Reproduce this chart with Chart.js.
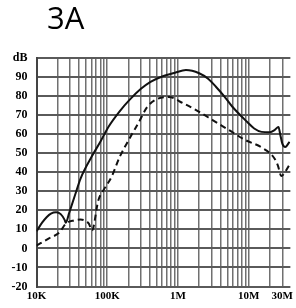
<!DOCTYPE html>
<html>
<head>
<meta charset="utf-8">
<script src="https://cdn.jsdelivr.net/npm/chart.js@4/dist/chart.umd.min.js"></script>
<style>
  html, body { margin: 0; padding: 0; background: #fff; width: 296px; height: 308px; overflow: hidden; }
  #wrap { position: relative; width: 296px; height: 308px; }
  #title { position: absolute; left: 47px; top: 2px; font-family: "Open Sans", sans-serif; font-size: 31px; line-height: 31px; color: #000; }
  canvas { position: absolute; left: 0; top: 0; }
</style>
</head>
<body>
<div id="wrap">
  <canvas id="c" width="296" height="308"></canvas>
  <div id="title">3A</div>
</div>
<script>
// Frequencies (Hz) and levels (dB)
const solidFreq = [10e3, 12e3, 14e3, 16e3, 19e3, 22e3, 25e3, 26e3, 29e3, 35e3, 42e3, 61e3, 80e3, 104e3, 150e3, 207e3, 300e3, 410e3, 600e3, 910e3, 1.3e6, 2.0e6, 2.7e6, 3.45e6, 4.5e6, 5.9e6, 9.5e6, 12e6, 15.3e6, 20e6, 23.3e6, 26.5e6, 28e6, 30e6, 33e6, 38e6];
const solidDb   = [9, 13.5, 16.5, 18.3, 19, 18, 15, 13.5, 18.7, 27.9, 36.7, 48.5, 56, 63.8, 72, 78, 83.8, 87.5, 90.3, 92.3, 93.7, 92, 89, 84.9, 80, 74.4, 66.5, 63, 61.2, 61, 62.1, 63.8, 60, 55, 53.3, 56];

const dashFreq = [10e3, 15e3, 21e3, 26e3, 34e3, 42e3, 49e3, 55e3, 61e3, 75e3, 90e3, 115e3, 150e3, 207e3, 282e3, 370e3, 510e3, 740e3, 1.19e6, 2.0e6, 3.1e6, 5.3e6, 8.9e6, 15.3e6, 23e6, 26e6, 29e6, 34e6, 38e6];
const dashDb   = [1.5, 5.3, 8.3, 13, 14.7, 15.2, 14.5, 13, 9.5, 25.3, 31, 37.5, 48, 57.7, 66.5, 74.4, 78.5, 79.5, 76.2, 71.7, 67.4, 62.1, 57, 53, 47.5, 43.5, 38, 41, 44];

const yTickValues = [-20, -10, 0, 10, 20, 30, 40, 50, 60, 70, 80, 90, 100];
const yTopLabel = "dB";
const xLabelMap = { 1e4: "10K", 1e5: "100K", 1e6: "1M", 1e7: "10M", 3e7: "30M" };

const xMin = 1e4, xMax = 3.9e7;

function pts(fs, vs) { return fs.map((f, i) => ({ x: f, y: vs[i] })); }

function logTicks() {
  const t = [];
  for (let p = 4; p <= 7; p++) {
    for (let m = 1; m <= 9; m++) {
      const v = m * Math.pow(10, p);
      if (v >= xMin && v <= xMax) t.push({ value: v });
    }
  }
  return t;
}

new Chart(document.getElementById('c'), {
  type: 'line',
  data: {
    datasets: [
      { data: pts(solidFreq, solidDb), borderColor: '#111', borderWidth: 2, pointRadius: 0, cubicInterpolationMode: 'monotone', fill: false },
      { data: pts(dashFreq, dashDb), borderColor: '#111', borderWidth: 2, borderDash: [6, 4], pointRadius: 0, cubicInterpolationMode: 'monotone', fill: false }
    ]
  },
  options: {
    responsive: false,
    animation: false,
    events: [],
    layout: { padding: { top: 58, right: 0, left: 0, bottom: 0 } },
    plugins: { legend: { display: false }, tooltip: { enabled: false }, title: { display: false } },
    scales: {
      x: {
        type: 'logarithmic',
        min: xMin,
        max: xMax,
        afterBuildTicks: (s) => { s.ticks = logTicks(); },
        afterFit: (s) => { s.height = 21.5; },
        grid: { color: '#707070', lineWidth: 1.5, drawTicks: false },
        border: { display: false },
        ticks: {
          autoSkip: false,
          maxRotation: 0,
          padding: 3,
          color: '#000',
          font: { family: '"Liberation Serif", serif', size: 11, weight: 'bold' },
          callback: (v) => xLabelMap[v] || ''
        }
      },
      y: {
        min: -20,
        max: 100,
        afterBuildTicks: (s) => { s.ticks = yTickValues.map(v => ({ value: v })); },
        afterFit: (s) => { s.width = 36.5; },
        grid: { color: '#5a5a5a', lineWidth: 2, drawTicks: false },
        border: { display: true, color: '#444', width: 2 },
        ticks: {
          padding: 9,
          color: '#000',
          font: { family: '"Liberation Serif", serif', size: 12, weight: 'bold' },
          callback: (v) => v === 100 ? yTopLabel : String(v)
        }
      }
    }
  }
});
</script>
</body>
</html>
